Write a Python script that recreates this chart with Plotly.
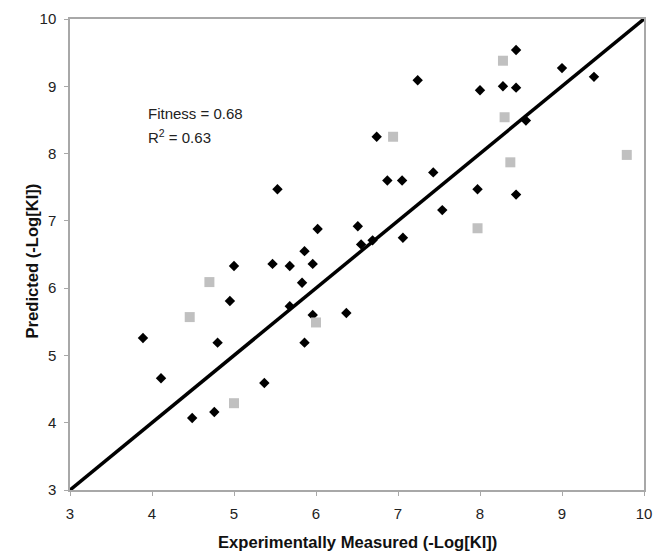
import plotly.graph_objects as go

# Black diamonds (training set)
train_x = [3.89, 4.11, 4.49, 4.76, 4.80, 4.95, 5.00, 5.37, 5.47, 5.53, 5.68, 5.68, 5.83,
           5.86, 5.86, 5.96, 5.96, 6.02, 6.37, 6.51, 6.55, 6.69, 6.74, 6.87, 7.05, 7.06,
           7.24, 7.43, 7.54, 7.97, 8.00, 8.28, 8.44, 8.44, 8.44, 8.56, 9.00, 9.39]
train_y = [5.26, 4.66, 4.07, 4.16, 5.19, 5.81, 6.33, 4.59, 6.36, 7.47, 6.33, 5.73, 6.08,
           6.55, 5.19, 6.36, 5.60, 6.88, 5.63, 6.92, 6.65, 6.71, 8.25, 7.60, 7.60, 6.75,
           9.09, 7.72, 7.16, 7.47, 8.94, 9.00, 9.54, 8.98, 7.39, 8.49, 9.27, 9.14]

# Gray squares (test set)
test_x = [4.46, 4.70, 5.00, 6.00, 6.94, 7.97, 8.28, 8.30, 8.37, 9.79]
test_y = [5.57, 6.09, 4.29, 5.49, 8.25, 6.89, 9.38, 8.54, 7.87, 7.98]

# Identity line
line_x = [3, 10]
line_y = [3, 10]

tick_vals = [3, 4, 5, 6, 7, 8, 9, 10]

x_title = "Experimentally Measured (-Log[KI])"
y_title = "Predicted (-Log[KI])"

FONT = "Liberation Sans, Arial, sans-serif"

fig = go.Figure()
fig.add_trace(go.Scatter(x=line_x, y=line_y, mode="lines",
                         line=dict(color="black", width=3.5), showlegend=False))
fig.add_trace(go.Scatter(x=train_x, y=train_y, mode="markers",
                         marker=dict(symbol="diamond", size=8, color="black"),
                         showlegend=False))
fig.add_trace(go.Scatter(x=test_x, y=test_y, mode="markers",
                         marker=dict(symbol="square", size=10, color="#c0c0c0"),
                         showlegend=False))

axis_common = dict(
    range=[3, 10], tickvals=tick_vals, ticktext=[str(v) for v in tick_vals],
    showgrid=False, zeroline=False, showline=True, mirror=True, automargin=False,
    linecolor="#a8a8a8", linewidth=1.5, ticks="outside", ticklen=4,
    tickcolor="#a8a8a8", tickfont=dict(family=FONT, size=15, color="#222"),
    ticklabelstandoff=5,
)

fig.update_layout(
    width=655, height=552,
    margin=dict(l=70, r=11, t=19, b=62),
    paper_bgcolor="white", plot_bgcolor="white",
    xaxis=dict(**axis_common),
    yaxis=dict(**axis_common),
    annotations=[
        dict(x=3.93, y=8.60, xref="x", yref="y", text="Fitness = 0.68",
             showarrow=False, xanchor="left", yanchor="middle",
             font=dict(family=FONT, size=15, color="#222")),
        dict(x=3.93, y=8.26, xref="x", yref="y", text="R<sup>2</sup> = 0.63",
             showarrow=False, xanchor="left", yanchor="middle",
             font=dict(family=FONT, size=15, color="#222")),
        dict(x=0.5, y=542, xref="paper", yref="paper", yanchor="middle",
             text="<b>" + x_title + "</b>", showarrow=False,
             font=dict(family=FONT, size=16.6, color="#111")),
        dict(x=20, y=261, xref="paper", yref="paper", textangle=-90,
             text="<b>" + y_title + "</b>", showarrow=False,
             font=dict(family=FONT, size=16.6, color="#111")),
    ],
)

# convert pixel positions of the axis-title annotations into paper coordinates
plot_l, plot_r, plot_t, plot_b = 70, 644, 19, 490
ann = list(fig.layout.annotations)
ann[2].update(y=(plot_b - 542) / (plot_b - plot_t))
ann[3].update(x=(20 - plot_l) / (plot_r - plot_l), y=(plot_b - 261) / (plot_b - plot_t))
fig.layout.annotations = ann

fig.write_html("out.html")
